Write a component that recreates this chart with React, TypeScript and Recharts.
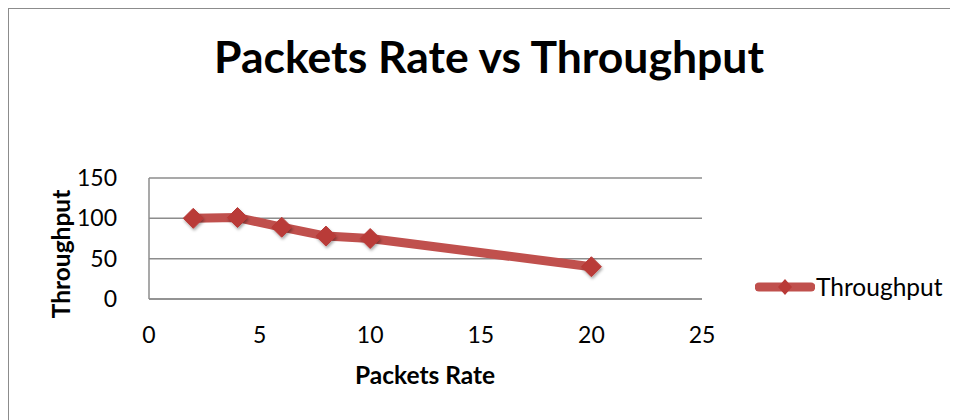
import React from "react";
import { LineChart, Line, XAxis, YAxis, CartesianGrid, Legend } from "recharts";

const packetRates = [2, 4, 6, 8, 10, 20];
const throughput = [100, 101, 89, 78, 75, 40];
const xTicks = [0, 5, 10, 15, 20, 25];
const yTicks = [0, 50, 100, 150];

const data = packetRates.map((rate, i) => ({ rate, throughput: throughput[i] }));

const LINE_COLOR = "#C0504D";
const MARKER_COLOR = "#B93A37";
const FONT = "Lato, 'Noto Sans', sans-serif";

const Diamond = (props: any) => {
  const { cx, cy } = props;
  if (cx == null || cy == null) return null;
  const r = 10;
  return (
    <path
      d={`M${cx},${cy - r} L${cx + r},${cy} L${cx},${cy + r} L${cx - r},${cy} Z`}
      fill={MARKER_COLOR}
      stroke={MARKER_COLOR}
      strokeWidth={1}
      filter="url(#markerShadow)"
    />
  );
};

const LegendContent = () => (
  <div style={{ display: "flex", alignItems: "center", fontFamily: FONT, fontSize: 24.5, color: "#000" }}>
    <svg width={60} height={20}>
      <line x1={4} y1={10} x2={56} y2={10} stroke={LINE_COLOR} strokeWidth={9} strokeLinecap="round" />
      <path d="M30,2 L37,10 L30,18 L23,10 Z" fill={MARKER_COLOR} />
    </svg>
    <span style={{ marginLeft: 1 }}>Throughput</span>
  </div>
);

export default function App() {
  return (
    <div
      style={{
        position: "relative",
        width: 949,
        height: 411,
        borderTop: "1px solid #8c8c8c",
        borderLeft: "1px solid #8c8c8c",
        background: "#fff",
      }}
    >
      <div
        style={{
          position: "absolute",
          left: 0,
          width: 960,
          top: 20,
          textAlign: "center",
          fontFamily: FONT,
          fontWeight: 700,
          fontSize: 44.5,
          color: "#000",
        }}
      >
        Packets Rate vs Throughput
      </div>
      <LineChart
        width={949}
        height={411}
        data={data}
        margin={{ top: 169, right: 256, bottom: 91, left: 0 }}
      >
        <defs>
          <filter id="markerShadow" x="-50%" y="-50%" width="200%" height="200%">
            <feDropShadow dx={1} dy={2} stdDeviation={1.5} floodColor="#000" floodOpacity={0.35} />
          </filter>
        </defs>
        <CartesianGrid vertical={false} stroke="#8c8c8c" strokeWidth={1.5} />
        <XAxis
          dataKey="rate"
          type="number"
          domain={[0, 25]}
          ticks={xTicks}
          height={30}
          axisLine={{ stroke: "#8c8c8c", strokeWidth: 1.5 }}
          tickLine={false}
          tick={{ fill: "#000", fontSize: 23, fontFamily: FONT }}
          tickMargin={22}
        />
        <YAxis
          type="number"
          domain={[0, 150]}
          ticks={yTicks}
          width={140}
          axisLine={{ stroke: "#8c8c8c", strokeWidth: 1.5 }}
          tickLine={false}
          tick={{ fill: "#000", fontSize: 23, fontFamily: FONT }}
          tickMargin={26}
        />
        <Legend
          layout="horizontal"
          verticalAlign="middle"
          align="center"
          content={<LegendContent />}
          wrapperStyle={{ left: 746, top: 263, width: 210 }}
        />
        <Line
          type="linear"
          dataKey="throughput"
          name="Throughput"
          stroke={LINE_COLOR}
          strokeWidth={9}
          strokeLinejoin="round"
          dot={<Diamond />}
          activeDot={false}
          isAnimationActive={false}
        />
      </LineChart>
      <div
        style={{
          position: "absolute",
          left: 346,
          top: 351,
          fontFamily: FONT,
          fontWeight: 700,
          fontSize: 24.5,
          color: "#000",
        }}
      >
        Packets Rate
      </div>
      <div
        style={{
          position: "absolute",
          left: 51,
          top: 245,
          transform: "translate(-50%, -50%) rotate(-90deg)",
          fontFamily: FONT,
          fontWeight: 700,
          fontSize: 24.5,
          color: "#000",
          whiteSpace: "nowrap",
        }}
      >
        Throughput
      </div>
    </div>
  );
}
